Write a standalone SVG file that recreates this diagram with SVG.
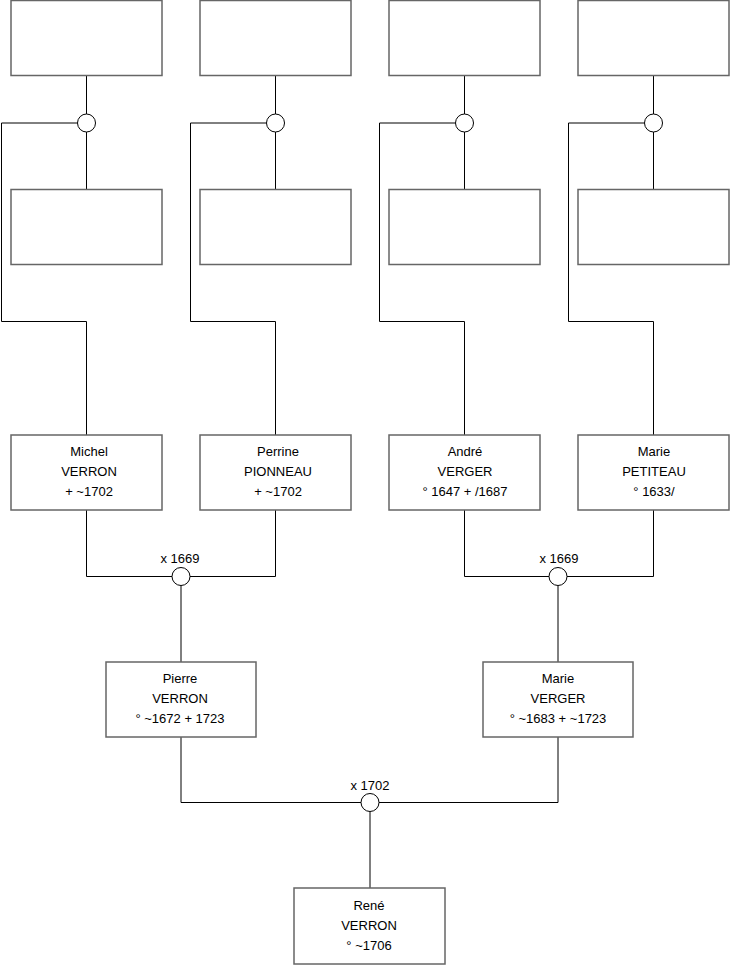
<svg xmlns="http://www.w3.org/2000/svg" width="740" height="975" viewBox="0 0 740 975">
<style>
.box{fill:#fff;stroke:#666;stroke-width:1.5}
.c{fill:#fff;stroke:#000;stroke-width:1}
.ln{fill:none;stroke:#000;stroke-width:1}
text{font-family:"Liberation Sans",Arial,sans-serif;font-size:13px;fill:#000;text-anchor:middle}
</style>
<g id="connectors">
<path class="ln" d="M86.5,75.5V114M86.5,132V189M77.5,123H1.5V321.5H86.5V435"/>
<path class="ln" d="M275.5,75.5V114M275.5,132V189M266.5,123H190.5V321.5H275.5V435"/>
<path class="ln" d="M464.5,75.5V114M464.5,132V189M455.5,123H379.5V321.5H464.5V435"/>
<path class="ln" d="M653.5,75.5V114M653.5,132V189M644.5,123H568.5V321.5H653.5V435"/>
<path class="ln" d="M86.5,510V576.5H172M275.5,510V576.5H190M181,585.5V662"/>
<path class="ln" d="M464.5,510V576.5H549M653.5,510V576.5H567M558,585.5V662"/>
<path class="ln" d="M181,737V802.5H361M558,737V802.5H379M370,811.5V888"/>
</g>
<g id="n1"><rect class="box" x="11" y="0.5" width="151" height="75"/></g>
<g id="n2"><rect class="box" x="200" y="0.5" width="151" height="75"/></g>
<g id="n3"><rect class="box" x="389" y="0.5" width="151" height="75"/></g>
<g id="n4"><rect class="box" x="578" y="0.5" width="151" height="75"/></g>
<g id="m1"><circle class="c" cx="86.5" cy="123" r="9"/></g>
<g id="m2"><circle class="c" cx="275.5" cy="123" r="9"/></g>
<g id="m3"><circle class="c" cx="464.5" cy="123" r="9"/></g>
<g id="m4"><circle class="c" cx="653.5" cy="123" r="9"/></g>
<g id="n5"><rect class="box" x="11" y="189.5" width="151" height="75"/></g>
<g id="n6"><rect class="box" x="200" y="189.5" width="151" height="75"/></g>
<g id="n7"><rect class="box" x="389" y="189.5" width="151" height="75"/></g>
<g id="n8"><rect class="box" x="578" y="189.5" width="151" height="75"/></g>
<g id="michel"><rect class="box" x="11" y="435" width="151" height="75"/>
<text x="89" y="455.5">Michel</text><text x="89" y="475.5">VERRON</text><text x="89" y="495.5">+ ~1702</text></g>
<g id="perrine"><rect class="box" x="200" y="435" width="151" height="75"/>
<text x="278" y="455.5">Perrine</text><text x="278" y="475.5">PIONNEAU</text><text x="278" y="495.5">+ ~1702</text></g>
<g id="andre"><rect class="box" x="389" y="435" width="151" height="75"/>
<text x="465" y="455.5">André</text><text x="465" y="475.5">VERGER</text><text x="465" y="495.5">° 1647 + /1687</text></g>
<g id="mariep"><rect class="box" x="578" y="435" width="151" height="75"/>
<text x="654" y="455.5">Marie</text><text x="654" y="475.5">PETITEAU</text><text x="654" y="495.5">° 1633/</text></g>
<g id="mar1"><circle class="c" cx="181" cy="576.5" r="9"/><text x="180" y="562.5">x 1669</text></g>
<g id="mar2"><circle class="c" cx="558" cy="576.5" r="9"/><text x="559" y="562.5">x 1669</text></g>
<g id="pierre"><rect class="box" x="106" y="662" width="150" height="75"/>
<text x="180" y="683">Pierre</text><text x="180" y="703">VERRON</text><text x="180" y="723">° ~1672 + 1723</text></g>
<g id="mariev"><rect class="box" x="483" y="662" width="150" height="75"/>
<text x="558" y="683">Marie</text><text x="558" y="703">VERGER</text><text x="558" y="723">° ~1683 + ~1723</text></g>
<g id="mar3"><circle class="c" cx="370" cy="802.5" r="9"/><text x="370" y="789.5">x 1702</text></g>
<g id="rene"><rect class="box" x="294" y="888" width="151" height="76"/>
<text x="369" y="910">René</text><text x="369" y="930">VERRON</text><text x="369" y="950">° ~1706</text></g>
</svg>
